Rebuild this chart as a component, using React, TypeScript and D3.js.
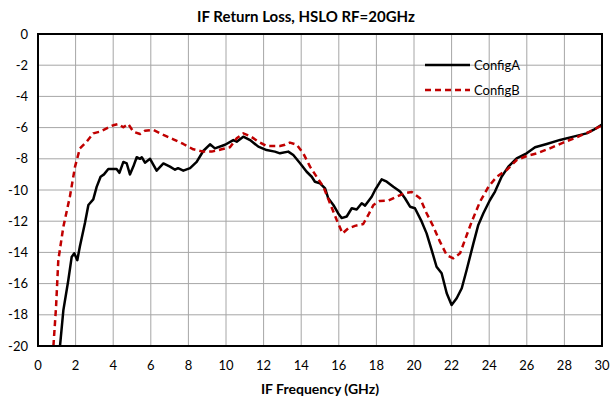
import React from 'react';
import * as d3 from 'd3';

// IF return loss readings (GHz, dB)
const configAFreq = [1.17, 1.35, 1.61, 1.79, 1.93, 2.09, 2.23, 2.5, 2.68, 2.94, 3.12, 3.33, 3.51, 3.74, 4.18, 4.33, 4.54, 4.72, 4.89, 5.07, 5.25, 5.43, 5.52, 5.69, 5.96, 6.31, 6.67, 7.02, 7.29, 7.45, 7.73, 8.09, 8.44, 8.79, 9.15, 9.41, 9.95, 10.39, 10.57, 10.92, 11.28, 11.72, 12.16, 12.6, 12.87, 13.31, 13.58, 13.94, 14.29, 14.56, 14.73, 15.0, 15.27, 15.44, 15.71, 15.97, 16.15, 16.42, 16.69, 16.95, 17.22, 17.4, 17.75, 17.93, 18.28, 18.55, 18.9, 19.26, 19.52, 19.79, 20.05, 20.41, 20.67, 20.94, 21.2, 21.47, 21.74, 22.0, 22.27, 22.54, 22.8, 23.16, 23.42, 23.69, 24.04, 24.31, 24.66, 25.02, 25.46, 25.99, 26.44, 27.06, 27.77, 28.48, 29.18, 29.54, 30];
const configAVal = [-20, -17.7, -15.8, -14.3, -14.06, -14.5, -13.6, -12.1, -10.96, -10.6, -9.8, -9.15, -9.0, -8.65, -8.65, -8.9, -8.2, -8.3, -9.0, -8.5, -7.9, -8.0, -7.9, -8.25, -8.0, -8.76, -8.3, -8.5, -8.7, -8.6, -8.76, -8.6, -8.2, -7.5, -7.07, -7.33, -7.1, -6.8, -6.9, -6.58, -6.8, -7.22, -7.44, -7.54, -7.65, -7.54, -7.76, -8.29, -8.83, -9.15, -9.47, -9.57, -9.9, -10.53, -10.96, -11.5, -11.8, -11.7, -11.17, -11.25, -10.85, -11.0, -10.43, -10.0, -9.32, -9.47, -9.79, -10.1, -10.53, -11.07, -11.17, -12.03, -12.78, -13.85, -14.92, -15.34, -16.62, -17.37, -16.94, -16.3, -15.13, -13.42, -12.24, -11.49, -10.64, -10.1, -9.15, -8.5, -7.97, -7.65, -7.26, -7.05, -6.79, -6.58, -6.37, -6.15, -5.8];

const configBFreq = [0.82, 0.96, 1.08, 1.35, 1.7, 1.97, 2.23, 2.59, 2.94, 3.3, 3.65, 4.0, 4.27, 4.54, 4.8, 5.07, 5.43, 5.69, 6.13, 6.67, 7.2, 7.73, 8.26, 8.79, 9.24, 9.77, 10.21, 10.57, 10.92, 11.28, 11.72, 12.16, 12.87, 13.14, 13.4, 13.76, 14.11, 14.47, 14.82, 15.18, 15.53, 15.89, 16.2, 16.5, 16.86, 17.3, 17.57, 17.84, 18.19, 18.63, 19.08, 19.52, 19.88, 20.32, 20.67, 21.03, 21.38, 21.74, 22.09, 22.45, 22.71, 23.07, 23.51, 23.96, 24.4, 24.93, 25.46, 25.99, 26.53, 27.23, 27.94, 28.65, 29.36, 30];
const configBVal = [-20, -17.5, -14.5, -12.35, -10.4, -8.5, -7.33, -6.9, -6.37, -6.26, -6.05, -5.85, -5.77, -5.98, -5.77, -6.26, -6.41, -6.2, -6.15, -6.47, -6.75, -7.05, -7.39, -7.54, -7.54, -7.39, -7.26, -6.69, -6.37, -6.54, -6.9, -7.18, -7.18, -7.1, -6.96, -7.1, -7.65, -8.5, -9.15, -9.79, -10.85, -11.92, -12.78, -12.46, -12.3, -12.18, -11.6, -10.96, -10.7, -10.68, -10.43, -10.2, -10.13, -10.53, -11.49, -12.35, -13.31, -14.17, -14.38, -14.06, -13.2, -12.03, -10.75, -9.79, -9.15, -8.72, -8.08, -7.82, -7.65, -7.33, -6.96, -6.62, -6.26, -5.85];

const xTicks = d3.range(0, 31, 2);
const yTicks = d3.range(-20, 1, 2);

const series = [
  { name: 'ConfigA', x: configAFreq, y: configAVal, color: '#000000', dash: null },
  { name: 'ConfigB', x: configBFreq, y: configBVal, color: '#c00000', dash: '6,4' },
];

const font = 'Lato, "Liberation Sans", sans-serif';

export default function App() {
  const width = 611;
  const height = 404;
  const margin = { top: 34, right: 9, bottom: 58, left: 38 };

  const x = d3.scaleLinear().domain([0, 30]).range([margin.left, width - margin.right]);
  const y = d3.scaleLinear().domain([-20, 0]).range([height - margin.bottom, margin.top]);

  const line = d3.line<[number, number]>()
    .x(d => x(d[0]))
    .y(d => y(d[1]))
    .curve(d3.curveLinear);

  return (
    <svg width={width} height={height} style={{ position: 'absolute', left: 0, top: 0, background: '#fff' }}>
      <defs>
        <clipPath id="plot">
          <rect x={x(0)} y={y(0)} width={x(30) - x(0)} height={y(-20) - y(0)} />
        </clipPath>
      </defs>

      {/* grid */}
      {xTicks.map(t => (
        <line key={'gx' + t} x1={x(t)} x2={x(t)} y1={y(0)} y2={y(-20)} stroke="#a6a6a6" strokeWidth={1} />
      ))}
      {yTicks.map(t => (
        <line key={'gy' + t} x1={x(0)} x2={x(30)} y1={y(t)} y2={y(t)} stroke="#a6a6a6" strokeWidth={1} />
      ))}

      {/* series */}
      <g clipPath="url(#plot)">
        {series.map(s => (
          <path
            key={s.name}
            d={line(s.x.map((v, i) => [v, s.y[i]] as [number, number])) || ''}
            fill="none"
            stroke={s.color}
            strokeWidth={2.5}
            strokeDasharray={s.dash || undefined}
            strokeLinejoin="round"
          />
        ))}
      </g>

      {/* frame */}
      <rect x={x(0)} y={y(0)} width={x(30) - x(0)} height={y(-20) - y(0)} fill="none" stroke="#000" strokeWidth={2} />

      {/* tick labels */}
      {yTicks.map(t => (
        <text key={'ty' + t} x={x(0) - 10} y={y(t)} dy="0.35em" textAnchor="end" fontSize={13} fontFamily={font} fill="#000">
          {t}
        </text>
      ))}
      {xTicks.map(t => (
        <text key={'tx' + t} x={x(t)} y={y(-20) + 19} dy="0.35em" textAnchor="middle" fontSize={13} fontFamily={font} fill="#000">
          {t}
        </text>
      ))}

      {/* titles */}
      <text x={(x(0) + x(30)) / 2 - 14} y={17} dy="0.35em" textAnchor="middle" fontSize={15} fontWeight="bold" fontFamily={font}>
        IF Return Loss, HSLO RF=20GHz
      </text>
      <text x={(x(0) + x(30)) / 2} y={389} dy="0.35em" textAnchor="middle" fontSize={14} fontWeight="bold" fontFamily={font}>
        IF Frequency (GHz)
      </text>

      {/* legend */}
      {series.map((s, i) => (
        <g key={'lg' + s.name} transform={`translate(425, ${65 + i * 25})`}>
          <line x1={0} x2={45} y1={0} y2={0} stroke={s.color} strokeWidth={2.5} strokeDasharray={s.dash || undefined} />
          <text x={49} y={0} dy="0.35em" fontSize={13} fontFamily={font}>{s.name}</text>
        </g>
      ))}
    </svg>
  );
}
